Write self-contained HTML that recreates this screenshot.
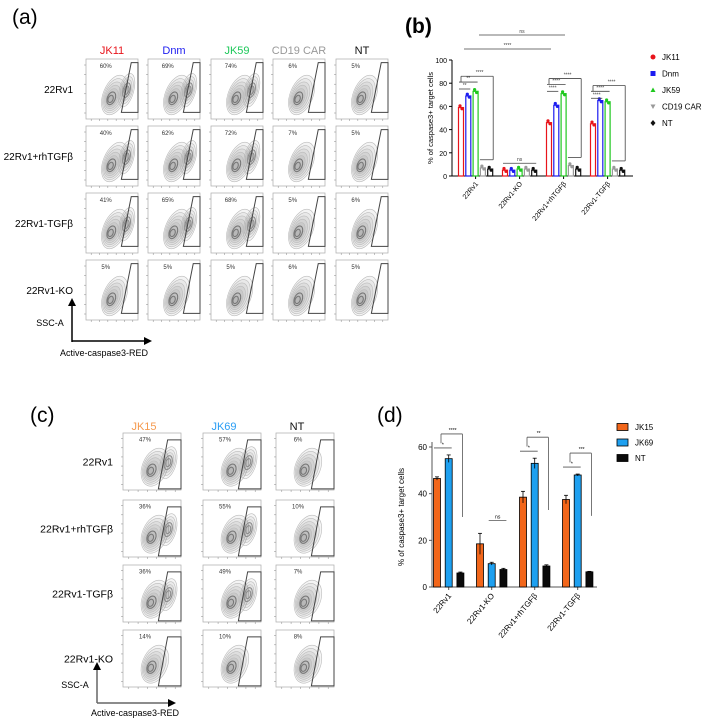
<!DOCTYPE html>
<html><head><meta charset="utf-8">
<style>
html,body{margin:0;padding:0;background:#fff;}
body{width:706px;height:721px;overflow:hidden;font-family:"Liberation Sans",sans-serif;}
svg text{font-family:"Liberation Sans","Noto Sans CJK SC",sans-serif;}
</style></head>
<body>
<svg id="fig" width="706" height="721" viewBox="0 0 706 721" xmlns="http://www.w3.org/2000/svg">
  <text x="12" y="24" font-size="21">(a)</text>
  <text x="405" y="33" font-size="21" font-weight="bold">(b)</text>
  <text x="30" y="422" font-size="21">(c)</text>
  <text x="377" y="422" font-size="21">(d)</text>
  <g id="pa"></g><g id="pb"></g><g id="pc"></g><g id="pd"></g>
</svg>
<script>
// ---------- data ----------
const bCategories = ["22Rv1","22Rv1-KO","22Rv1+rhTGFβ","22Rv1-TGFβ"];
const bSeries = ["JK11","Dnm","JK59","CD19 CAR","NT"];
const bJK11 = [59,5,46,45];
const bDnm = [69,5,61,65];
const bJK59 = [73,6,71,64];
const bCD19 = [7,6,9,6];
const bNT = [6,5,6,5];
const bTicks = [0,20,40,60,80,100];

const dCategories = ["22Rv1","22Rv1-KO","22Rv1+rhTGFβ","22Rv1-TGFβ"];
const dSeries = ["JK15","JK69","NT"];
const dJK15 = [46.5,18.5,38.5,37.5];
const dJK15Err = [0.7,4.5,2.5,1.8];
const dJK69 = [55,10,53,48];
const dJK69Err = [1.6,0.6,2.2,0.4];
const dNT = [6,7.5,9,6.5];
const dNTErr = [0.4,0.5,0.5,0.2];
const dTicks = [0,20,40,60];

const aCols = ["JK11","Dnm","JK59","CD19 CAR","NT"];
const aRows = ["22Rv1","22Rv1+rhTGFβ","22Rv1-TGFβ","22Rv1-KO"];
const aPct = [[60,69,74,6,5],[40,62,72,7,5],[41,65,68,5,6],[5,5,5,6,5]];
const cCols = ["JK15","JK69","NT"];
const cRows = ["22Rv1","22Rv1+rhTGFβ","22Rv1-TGFβ","22Rv1-KO"];
const cPct = [[47,57,6],[36,55,10],[36,49,7],[14,10,8]];

const NS="http://www.w3.org/2000/svg";
function mk(parent,tag,attrs,txt){const e=document.createElementNS(NS,tag);for(const k in attrs)e.setAttribute(k,attrs[k]);if(txt!==undefined)e.textContent=txt;parent.appendChild(e);return e;}

// ---------- flow plots ----------
function flow(g,x,y,w,h,pct,gate,twoPop){
  const box=mk(g,'rect',{x:x,y:y,width:w,height:h,fill:'#fff',stroke:'#aaa','stroke-width':0.7});
  
  
  const cx=x+w*0.55, cy=y+h*0.6;
  const n=7;
  for(let i=n;i>=1;i--){
    const f=i/n;
    const el=mk(g,'ellipse',{cx:cx-w*0.05*(1-f),cy:cy+h*0.1*(1-f),rx:w*0.2*f+1,ry:h*0.33*f+1,fill:'rgba(0,0,0,0.045)',stroke:i<3?'#777':'#bbb','stroke-width':i<3?1.1:0.6,transform:`rotate(22 ${cx} ${cy})`});
    
    
  }
  if(twoPop){
    const cx2=x+w*0.78, cy2=y+h*0.52;
    for(let i=5;i>=1;i--){
      const f=i/5;
      const el=mk(g,'ellipse',{cx:cx2,cy:cy2,rx:w*0.12*f+1,ry:h*0.27*f+1,fill:'rgba(0,0,0,0.04)',stroke:i<3?'#888':'#bbb','stroke-width':i<3?1:0.6,transform:`rotate(15 ${cx2} ${cy2})`});
      
      
    }
  }
  const pts=[[gate[0],gate[3]],[gate[1],gate[2]],[1,gate[2]],[1,gate[3]]].map(p=>(x+p[0]*w)+','+(y+p[1]*h)).join(' ');
  const gp=mk(g,'polygon',{points:pts,fill:'none',stroke:'#444','stroke-width':1});
  
  
  const t=mk(g,'text',{x:x+w*0.38,y:y+h*0.15,'font-size':6,fill:'#333','text-anchor':'middle'},pct+'%');
  
  
  for(let k=0;k<6;k++){mk(g,'line',{x1:x+w*(0.1+k*0.16),x2:x+w*(0.1+k*0.16),y1:y+h,y2:y+h+2,stroke:'#888','stroke-width':0.5});}
  for(let k=0;k<6;k++){mk(g,'line',{x1:x-2,x2:x,y1:y+h*(0.1+k*0.16),y2:y+h*(0.1+k*0.16),stroke:'#888','stroke-width':0.5});}
}
// panel a
(function(){
  const g=document.getElementById('pa');
  const colX=[86,148,211,273,336], rowY=[59,126,193,260], W=52,H=60;
  const colColors=['#e8141b','#1c1cf0','#1ec85a','#999','#111'];
  aCols.forEach((c,i)=>{const t=mk(g,'text',{x:colX[i]+W/2,y:54,'font-size':11,fill:colColors[i],'text-anchor':'middle'},c);
    });
  aRows.forEach((r,j)=>{const t=mk(g,'text',{x:73,y:rowY[j]+H/2+4,'font-size':10,'text-anchor':'end'},r);
    
    aCols.forEach((c,i)=>flow(g,colX[i],rowY[j],W,H,aPct[j][i],[0.68,0.87,0.06,0.89],aPct[j][i]>30));});
  mk(g,'line',{x1:72,y1:342,x2:72,y2:304,stroke:'#000','stroke-width':1.5});
  mk(g,'polygon',{points:'68,306 76,306 72,298',fill:'#000'});
  mk(g,'line',{x1:72,y1:341,x2:146,y2:341,stroke:'#000','stroke-width':1.5});
  mk(g,'polygon',{points:'144,337 144,345 152,341',fill:'#000'});
  const s=mk(g,'text',{x:50,y:326,'font-size':9,'text-anchor':'middle'},'SSC-A');
  const a=mk(g,'text',{x:104,y:356,'font-size':9,'text-anchor':'middle'},'Active-caspase3-RED');
})();
// panel c
(function(){
  const g=document.getElementById('pc');
  const colX=[123,203,276], rowY=[433,500,565,630], W=58,H=57;
  const colColors=['#f59a4f','#2a9df4','#111'];
  cCols.forEach((c,i)=>{const t=mk(g,'text',{x:colX[i]+W/2-8,y:430,'font-size':11,fill:colColors[i],'text-anchor':'middle'},c);
    });
  cRows.forEach((r,j)=>{const t=mk(g,'text',{x:113,y:rowY[j]+H/2+4,'font-size':10.5,'text-anchor':'end'},r);
    
    cCols.forEach((c,i)=>flow(g,colX[i],rowY[j],W,H,cPct[j][i],[0.61,0.77,0.12,0.98],cPct[j][i]>30));});
  mk(g,'line',{x1:97,y1:703,x2:97,y2:668,stroke:'#666','stroke-width':1.5});
  mk(g,'polygon',{points:'93,670 101,670 97,662',fill:'#000'});
  mk(g,'line',{x1:97,y1:703,x2:170,y2:703,stroke:'#666','stroke-width':1.5});
  mk(g,'polygon',{points:'168,699 168,707 176,703',fill:'#000'});
  const s=mk(g,'text',{x:75,y:688,'font-size':9,'text-anchor':'middle'},'SSC-A');
  const a=mk(g,'text',{x:135,y:716,'font-size':9,'text-anchor':'middle'},'Active-caspase3-RED');
})();

// ---------- panel b ----------
(function(){
  const g=document.getElementById('pb');
  const y0=176, yTop=60, ax=452, axEnd=633;
  const ys=v=>y0-(v/100)*(y0-yTop);
  const gx=(gi,si)=>461+gi*44+si*7.3;
  const colors=['#e8141b','#1c1cf0','#1ec81e','#999','#111'];
  const vals=[bJK11,bDnm,bJK59,bCD19,bNT];
  mk(g,'line',{x1:ax,y1:yTop,x2:ax,y2:y0,stroke:'#000','stroke-width':1});
  mk(g,'line',{x1:ax,y1:y0,x2:axEnd,y2:y0,stroke:'#000','stroke-width':1});
  bTicks.forEach(t=>{mk(g,'line',{x1:ax-3,x2:ax,y1:ys(t),y2:ys(t),stroke:'#000'});
    const l=mk(g,'text',{x:ax-5,y:ys(t)+3,'font-size':7,'text-anchor':'end'},t);
    });
  const yt=mk(g,'text',{x:0,y:0,'font-size':7.5,'text-anchor':'middle',transform:`translate(433,${(y0+yTop)/2}) rotate(-90)`},'% of caspase3+ target cells');
  
  bCategories.forEach((c,gi)=>{
    const cx=gx(gi,2);
    mk(g,'line',{x1:cx,x2:cx,y1:y0,y2:y0+3,stroke:'#000'});
    const t=mk(g,'text',{x:0,y:0,'font-size':7,'text-anchor':'end',transform:`translate(${cx+3},${y0+8}) rotate(-50)`},c);
    
    vals.forEach((arr,si)=>{
      const x=gx(gi,si);
      const r=mk(g,'rect',{x:x-2.5,y:ys(arr[gi]),width:5,height:y0-ys(arr[gi]),fill:'#fff',stroke:colors[si],'stroke-width':1.2});
      
      
      mk(g,'circle',{cx:x-1,cy:ys(arr[gi]+1.5),r:1.6,fill:colors[si]});
      mk(g,'circle',{cx:x+1,cy:ys(arr[gi]-1),r:1.6,fill:colors[si]});
    });
  });
  function br(x1,x2,y,lbl){mk(g,'line',{x1:x1,x2:x2,y1:y,y2:y,stroke:'#444','stroke-width':0.8});
    const t=mk(g,'text',{x:(x1+x2)/2,y:y-2,'font-size':5,'text-anchor':'middle',fill:'#444'},lbl);
    }
  br(479,565,35,'ns'); br(464,551,49,'****');
  [[0],[2],[3]].forEach(([gi])=>{
    const xa=gx(gi,0), xb=gx(gi,1), xc=gx(gi,2);
    const top=Math.max(bJK11[gi],bDnm[gi],bJK59[gi]);
    br(xa-2,xb+2,ys(top+2),gi==0?'**':'****');
    br(xa-2,xc+2,ys(top+8),gi==0?'**':'****');
    const yy=ys(top+13);
    mk(g,'line',{x1:xa,x2:gx(gi,4)+3,y1:yy,y2:yy,stroke:'#444','stroke-width':0.8});
    mk(g,'line',{x1:gx(gi,4)+3,x2:gx(gi,4)+3,y1:yy,y2:ys(Math.max(bCD19[gi],bNT[gi])+7),stroke:'#444','stroke-width':0.8});
    mk(g,'line',{x1:gx(gi,3)-3,x2:gx(gi,4)+3,y1:ys(Math.max(bCD19[gi],bNT[gi])+7),y2:ys(Math.max(bCD19[gi],bNT[gi])+7),stroke:'#444','stroke-width':0.8});
    mk(g,'line',{x1:xa,x2:xa,y1:yy,y2:ys(top+8),stroke:'#444','stroke-width':0.8});
    const t=mk(g,'text',{x:(xa+gx(gi,4))/2+4,y:yy-2,'font-size':5,'text-anchor':'middle',fill:'#444'},'****');
    
  });
  br(gx(1,0)-2,gx(1,4)+2,ys(11),'ns');
  bSeries.forEach((s,i)=>{
    const ly=57+i*16.5, lx=653;
    if(i==0) mk(g,'circle',{cx:lx,cy:ly,r:2.5,fill:colors[i]});
    else if(i==1) mk(g,'rect',{x:lx-2.5,y:ly-2.5,width:5,height:5,fill:colors[i]});
    else if(i==2) mk(g,'polygon',{points:`${lx-2.5},${ly+2} ${lx+2.5},${ly+2} ${lx},${ly-2.5}`,fill:colors[i]});
    else if(i==3) mk(g,'polygon',{points:`${lx-2.5},${ly-2} ${lx+2.5},${ly-2} ${lx},${ly+2.5}`,fill:colors[i]});
    else mk(g,'polygon',{points:`${lx},${ly-3} ${lx+2.5},${ly} ${lx},${ly+3} ${lx-2.5},${ly}`,fill:colors[i]});
    const t=mk(g,'text',{x:662,y:ly+3,'font-size':8},s);
    
  });
})();

// ---------- panel d ----------
(function(){
  const g=document.getElementById('pd');
  const y0=587, yTop=447, ax=432, axEnd=597;
  const ys=v=>y0-(v/60)*(y0-yTop);
  const gx=(gi,si)=>437+gi*43+si*11.7;
  const colors=['#f2661a','#1ea0f0','#0a0a0a'];
  const vals=[dJK15,dJK69,dNT], errs=[dJK15Err,dJK69Err,dNTErr];
  mk(g,'line',{x1:ax,y1:yTop-5,x2:ax,y2:y0,stroke:'#555','stroke-width':1});
  mk(g,'line',{x1:ax,y1:y0,x2:axEnd,y2:y0,stroke:'#555','stroke-width':1});
  dTicks.forEach(t=>{mk(g,'line',{x1:ax-3,x2:ax,y1:ys(t),y2:ys(t),stroke:'#555'});
    const l=mk(g,'text',{x:ax-5,y:ys(t)+3,'font-size':8,'text-anchor':'end'},t);
    });
  const yt=mk(g,'text',{x:0,y:0,'font-size':8,'text-anchor':'middle',transform:`translate(404,${(y0+yTop)/2}) rotate(-90)`},'% of caspase3+ target cells');
  
  dCategories.forEach((c,gi)=>{
    const cx=gx(gi,1);
    mk(g,'line',{x1:cx,x2:cx,y1:y0,y2:y0+3,stroke:'#555'});
    const t=mk(g,'text',{x:0,y:0,'font-size':8,'text-anchor':'end',transform:`translate(${cx+3},${y0+9}) rotate(-50)`},c);
    
    vals.forEach((arr,si)=>{
      const x=gx(gi,si);
      const r=mk(g,'rect',{x:x-3.5,y:ys(arr[gi]),width:7,height:y0-ys(arr[gi]),fill:colors[si],stroke:'#000','stroke-width':0.8});
      
      
      const e=errs[si][gi];
      mk(g,'line',{x1:x,x2:x,y1:ys(arr[gi]+e),y2:ys(arr[gi]-e),stroke:'#000','stroke-width':0.8});
      mk(g,'line',{x1:x-2,x2:x+2,y1:ys(arr[gi]+e),y2:ys(arr[gi]+e),stroke:'#000','stroke-width':0.8});
    });
    if(gi!=1){
      const top=Math.max(dJK15[gi],dJK69[gi])+dJK69Err[gi];
      const xa=gx(gi,0), xb=gx(gi,1), xc=gx(gi,2)+2;
      mk(g,'line',{x1:xa-3,x2:xb+3,y1:ys(top+3),y2:ys(top+3),stroke:'#555','stroke-width':0.8});
      mk(g,'text',{x:(xa+xb)/2,y:ys(top+3)-1.5,'font-size':5,'text-anchor':'middle'},'*');
      const yy=ys(top+9);
      mk(g,'line',{x1:xa+4,x2:xa+4,y1:ys(top+5),y2:yy,stroke:'#555','stroke-width':0.8});
      mk(g,'line',{x1:xa+4,x2:xc,y1:yy,y2:yy,stroke:'#555','stroke-width':0.8});
      mk(g,'line',{x1:xc,x2:xc,y1:yy,y2:ys(dNT[gi]+24),stroke:'#555','stroke-width':0.8});
      const t=mk(g,'text',{x:(xa+xc)/2+3,y:yy-2,'font-size':5,'text-anchor':'middle'},['****','','**','***'][gi]);
      
    } else {
      mk(g,'line',{x1:gx(1,1)-3,x2:gx(1,2)+3,y1:ys(28.5),y2:ys(28.5),stroke:'#555','stroke-width':0.8});
      const t=mk(g,'text',{x:gx(1,1)+6,y:ys(28.5)-2,'font-size':5,'text-anchor':'middle'},'ns');
      
    }
  });
  dSeries.forEach((s,i)=>{
    const ly=427+i*15.5;
    mk(g,'rect',{x:617,y:ly-3.5,width:11,height:7,fill:colors[i],stroke:'#000','stroke-width':0.8});
    const t=mk(g,'text',{x:635,y:ly+3,'font-size':8},s);
    
  });
})();
</script>
</body></html>
